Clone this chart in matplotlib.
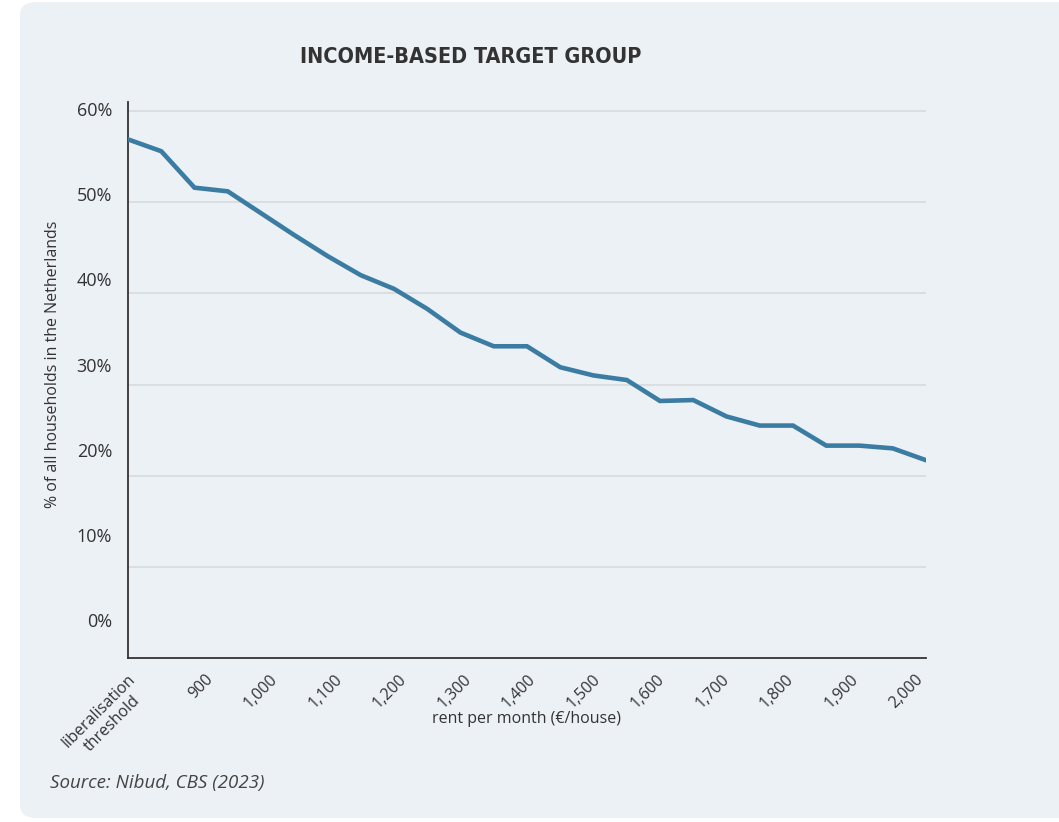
import matplotlib.pyplot as plt
from matplotlib.patches import FancyBboxPatch
import numpy as np

plt.rcParams['font.family'] = ['Open Sans', 'DejaVu Sans']

# share of households in the income-based target group, per rent level (50 euro steps)
rent_steps = ['liberalisation threshold', '850', '900', '950', '1,000', '1,050', '1,100',
              '1,150', '1,200', '1,250', '1,300', '1,350', '1,400', '1,450', '1,500',
              '1,550', '1,600', '1,650', '1,700', '1,750', '1,800', '1,850', '1,900',
              '1,950', '2,000']
share = [56.9, 55.6, 51.6, 51.2, 48.8, 46.4, 44.1, 42.0, 40.5, 38.3, 35.7, 34.2, 34.2,
         31.9, 31.0, 30.5, 28.2, 28.3, 26.5, 25.5, 25.5, 23.3, 23.3, 23.0, 21.7]
x_labels = ['liberalisation\nthreshold', '900', '1,000', '1,100', '1,200', '1,300', '1,400',
            '1,500', '1,600', '1,700', '1,800', '1,900', '2,000']
y_ticks = [0, 10, 20, 30, 40, 50, 60]

W, H = 1059, 822
fig = plt.figure(figsize=(W / 100, H / 100), dpi=100)
fig.patch.set_facecolor('white')

# rounded background panel
panel = FancyBboxPatch((20 / W, 4 / H), 1.2, (816 / H),
                       boxstyle='round,pad=0,rounding_size=0.016',
                       transform=fig.transFigure, facecolor='#ecf1f6',
                       edgecolor='none', zorder=-10)
fig.patches.append(panel)

ax = fig.add_axes([128 / W, 1 - 658 / H, (926 - 128) / W, (658 - 102) / H])
ax.set_facecolor('none')

x = np.arange(len(share))
ax.plot(x, share, color='#3b7ca3', lw=3.3, solid_joinstyle='miter', zorder=3)
ax.set_xlim(0, len(share) - 1)
ax.set_ylim(0, 61)

for v in y_ticks[1:]:
    ax.axhline(v, color='#d9dcdf', lw=1.3, zorder=1)

# tick labels
ypos = 4.17 + np.array(y_ticks) * 0.934
ax.set_yticks(ypos, [f'{v}%' for v in y_ticks])
ax.tick_params(axis='y', length=0, pad=11.5, labelsize=13, labelcolor='#333333')

idx = x[::2]
xpos = 24 - (24 - idx) * 0.97
ax.set_xticks(xpos, x_labels, rotation=45, ha='right')
ax.tick_params(axis='x', length=0, pad=9.5, labelsize=11.5, labelcolor='#333333')
for lbl in ax.get_xticklabels():
    lbl.set_multialignment('center')

for s in ['top', 'right']:
    ax.spines[s].set_visible(False)
for s in ['left', 'bottom']:
    ax.spines[s].set_color('#333333')
    ax.spines[s].set_linewidth(1.3)

fig.text(471 / W, 1 - 57 / H, 'INCOME-BASED TARGET GROUP', ha='center', va='center',
         fontsize=15.5, fontweight='bold', fontstretch='condensed', color='#333333',
         family='DejaVu Sans')
fig.text(53 / W, 1 - 364 / H, '% of all households in the Netherlands', rotation=90,
         ha='center', va='center', fontsize=11.5, color='#333333')
fig.text(527 / W, 1 - 719 / H, 'rent per month (€/house)', ha='center', va='center',
         fontsize=11.5, color='#333333')
fig.text(50 / W, 1 - 783 / H, 'Source: Nibud, CBS (2023)', ha='left', va='center',
         fontsize=13.5, style='italic', color='#444444')

fig.savefig('out.png', dpi=100)
